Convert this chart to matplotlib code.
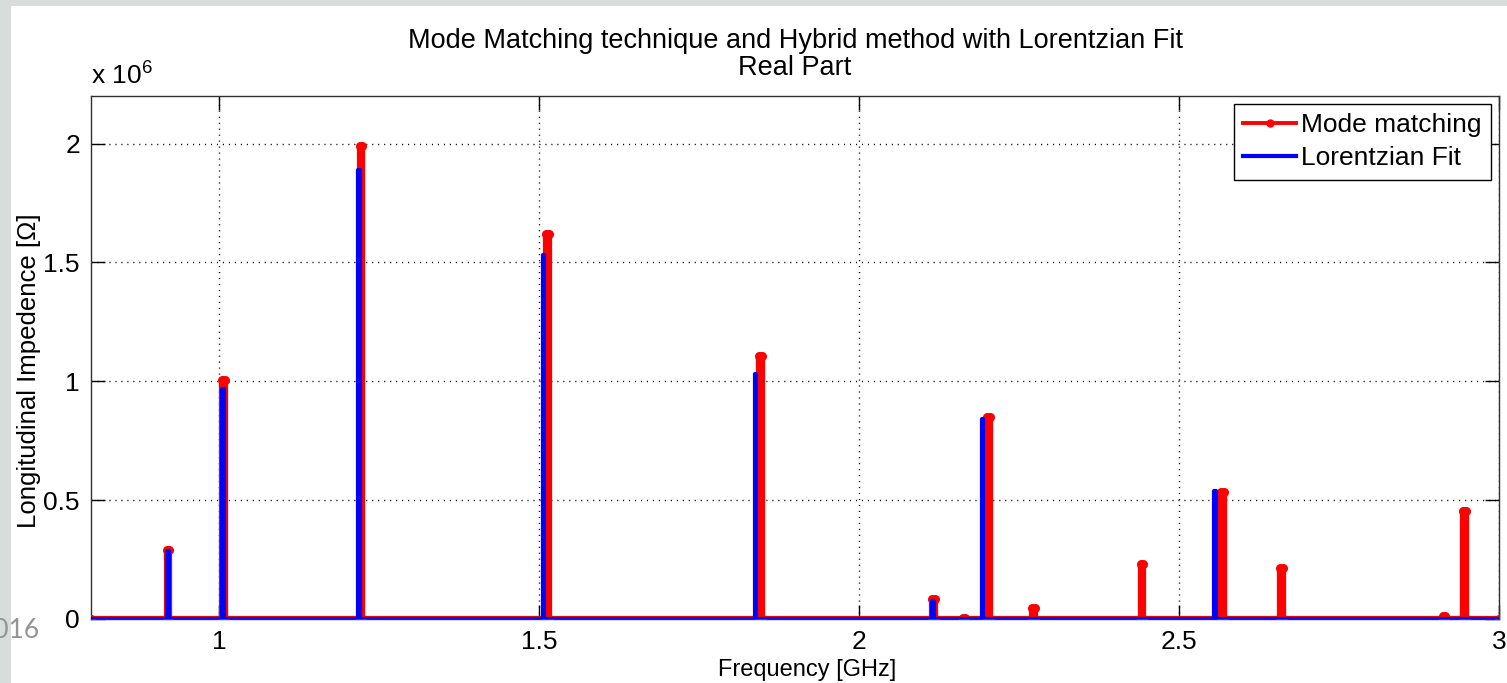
import matplotlib.pyplot as plt
from matplotlib.lines import Line2D
from matplotlib.patches import Rectangle
from matplotlib.ticker import FuncFormatter

plt.rcParams['font.family'] = ['Liberation Sans', 'DejaVu Sans']
plt.rcParams['mathtext.default'] = 'regular'

# peaks: frequency [GHz], height [Ohm]
mm_freq = [0.920, 1.007, 1.222, 1.513, 1.846, 2.116, 2.164, 2.202, 2.273,
           2.442, 2.568, 2.660, 2.914, 2.946]
mm_height = [0.292e6, 1.005e6, 1.99e6, 1.62e6, 1.105e6, 0.085e6, 0.005e6,
             0.848e6, 0.045e6, 0.230e6, 0.536e6, 0.216e6, 0.012e6, 0.455e6]

lf_freq = [0.920, 1.006, 1.219, 1.507, 1.838, 2.116, 2.193, 2.556]
lf_height = [0.284e6, 0.967e6, 1.889e6, 1.533e6, 1.03e6, 0.074e6, 0.841e6,
             0.54e6]

f_start, f_stop = 0.8, 3.0
xticks = [1, 1.5, 2, 2.5, 3]
yticks = [0, 0.5e6, 1e6, 1.5e6, 2e6]


def spikes(freqs, heights, half):
    xs = [f_start]
    ys = [0]
    for f, h in zip(freqs, heights):
        xs += [f - half, f - half, f + half, f + half]
        ys += [0, h, h, 0]
    xs.append(f_stop)
    ys.append(0)
    return xs, ys


fig = plt.figure(figsize=(15.07, 6.83), dpi=100)
fig.patch.set_facecolor('#d8dcda')
fig.patches.append(Rectangle((11 / 1507, 0), 1 - 11 / 1507, 1 - 6 / 683,
                             transform=fig.transFigure, facecolor='white',
                             edgecolor='none', zorder=-5))

ax = fig.add_axes([91 / 1507, 64 / 683, 1408 / 1507, 523 / 683])
ax.set_zorder(1)

x1, y1 = spikes(mm_freq, mm_height, 0.0020)
x2, y2 = spikes(lf_freq, lf_height, 0.0012)
ax.plot(x1, y1, color='red', lw=4.5, marker='.', markersize=11, zorder=3)
ax.plot(x2, y2, color='blue', lw=3.0, zorder=4)

ax.set_xlim(f_start, f_stop)
ax.set_ylim(0, 2.2e6)
ax.set_xticks(xticks)
ax.set_yticks(yticks)
ax.yaxis.set_major_formatter(FuncFormatter(lambda v, p: '%g' % (v / 1e6)))
ax.xaxis.set_major_formatter(FuncFormatter(lambda v, p: '%g' % v))
ax.tick_params(direction='in', length=10, width=1, labelsize=19,
               top=True, right=True, pad=8)
ax.grid(True, color='black', linestyle=(0, (0.8, 3.5)), linewidth=1.0)
for s in ax.spines.values():
    s.set_color('#303030')
    s.set_linewidth(1.0)

ax.set_xlabel('Frequency [GHz]', fontsize=17)
ax.xaxis.set_label_coords((807 - 91) / 1408, -40 / 523)
ax.set_ylabel('Longitudinal Impedence [\u03a9]', fontsize=18.5)
ax.yaxis.set_label_coords(-50 / 1408, 0.475)
ax.set_title('Mode Matching technique and Hybrid method with Lorentzian Fit\n'
             'Real Part', fontsize=19.5, pad=15, linespacing=1.05)
ax.text(0, 1.012, 'x 10$^6$', transform=ax.transAxes, fontsize=19,
        ha='left', va='bottom')

handles = [Line2D([], [], color='red', lw=2.8, marker='.', markersize=10),
           Line2D([], [], color='blue', lw=3.0)]
leg = ax.legend(handles, ['Mode matching', 'Lorentzian Fit'],
                loc='upper right', fontsize=19, handlelength=2.0,
                borderaxespad=0.3, fancybox=False, framealpha=1,
                edgecolor='black', borderpad=0.35, labelspacing=0.35,
                handletextpad=0.2)
leg.get_frame().set_linewidth(1.0)

fig.text(40 / 1507, 1 - 638 / 683, '2016', fontsize=19, color='#959595',
         ha='right', va='baseline', family=['Lato', 'DejaVu Sans'],
         zorder=10)

fig.savefig('out.png', dpi=100, facecolor=fig.get_facecolor())
